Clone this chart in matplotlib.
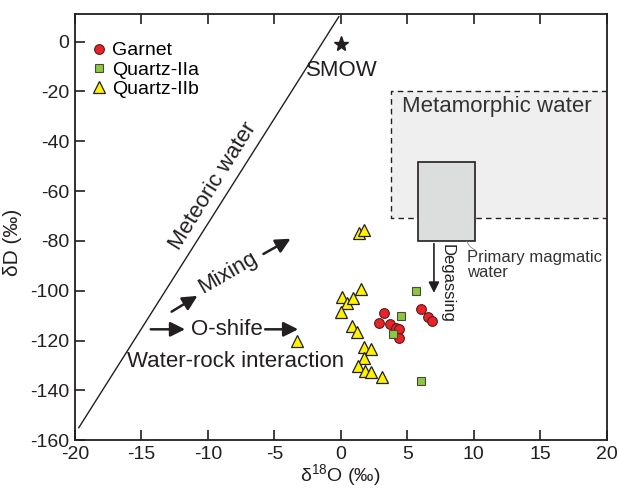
import matplotlib
matplotlib.use('Agg')
from matplotlib import pyplot as plt
from matplotlib.patches import Rectangle
import numpy as np

plt.rcParams['font.family'] = ['Liberation Sans', 'DejaVu Sans']
plt.rcParams['mathtext.fontset'] = 'custom'
plt.rcParams['mathtext.rm'] = 'Liberation Sans'
plt.rcParams['axes.unicode_minus'] = False
ink = '#231f20'

# data (δ18O, δD)
garnet_x = [3.21, 2.85, 3.67, 4.16, 4.36, 4.4, 6.06, 6.59, 6.86]
garnet_y = [-108.8, -113.1, -113.4, -114.8, -115.2, -118.8, -107.2, -110.4, -112.2]
qz2a_x = [5.64, 4.5, 3.92, 5.99]
qz2a_y = [-100.2, -110.0, -117.3, -136.2]
qz2b_x = [1.36, 1.75, 0.09, 0.46, 0.95, 1.55, -0.02, 0.82, 1.24, 1.73, 2.24,
          1.73, 1.31, 1.85, 2.28, 3.07, -3.28]
qz2b_y = [-76.9, -75.6, -102.4, -104.8, -102.8, -99.3, -108.4, -114.2, -116.7,
          -122.5, -123.5, -126.9, -130.3, -132.3, -132.5, -134.8, -120.3]

smow_x, smow_y = 0, -1
meteoric_x = [-19.7, -0.15]
meteoric_y = [-155, 10]
metamorphic_box = (3.8, 20.0, -71.0, -20.0)   # x0, x1, y0, y1
magmatic_box = (5.8, 10.1, -80.0, -48.5)

fig = plt.figure(figsize=(6.18, 4.88), dpi=100)
ax = fig.add_axes([0.121, 0.098, 0.861, 0.873])

# metamorphic water field
x0, x1, y0, y1 = metamorphic_box
ax.add_patch(Rectangle((x0, y0), x1 - x0, y1 - y0, facecolor='#efefef',
                       edgecolor='none', zorder=0))
ax.plot([x1, x0, x0, x1], [y1, y1, y0, y0], ls=(0, (4, 3)), color=ink, lw=1, zorder=1)
ax.text(4.6, -26, 'Metamorphic water', fontsize=16, color='#333333', va='center')

# primary magmatic water
x0, x1, y0, y1 = magmatic_box
ax.add_patch(Rectangle((x0, y0), x1 - x0, y1 - y0, facecolor='#dcdddd',
                       edgecolor=ink, lw=1.2, zorder=2))
ax.annotate('', xy=(7.0, -102), xytext=(7.0, -80),
            arrowprops=dict(arrowstyle='-|>', mutation_scale=16, lw=1.2, color=ink))
ax.text(8.0, -97, 'Degassing', rotation=270, fontsize=12, color=ink,
        ha='center', va='center')
ax.annotate('', xy=(10.3, -84), xytext=(9.4, -79),
            arrowprops=dict(arrowstyle='-', lw=0.6, color='#888888',
                            connectionstyle='arc3,rad=0.3'))
ax.text(9.5, -89.5, 'Primary magmatic\nwater', fontsize=12, color='#333333',
        va='center', linespacing=1.0)

# meteoric water line and SMOW
ax.plot(meteoric_x, meteoric_y, color=ink, lw=1)
ax.text(-9.6, -58, 'Meteoric water', rotation=58, fontsize=16, color=ink,
        ha='center', va='center')
ax.plot(smow_x, smow_y, marker='*', ms=11, color=ink, ls='none')
ax.text(-2.6, -11.5, 'SMOW', fontsize=16, color=ink, va='center')

# arrows
arrow = dict(arrowstyle='-|>', mutation_scale=22, lw=1.8, color=ink)
ax.annotate('', xy=(-10.6, -101.5), xytext=(-12.9, -109), arrowprops=arrow)
ax.text(-8.5, -93, 'Mixing', rotation=30, fontsize=16, color=ink, ha='center', va='center')
ax.annotate('', xy=(-3.6, -78.6), xytext=(-6.0, -85.8), arrowprops=arrow)
ax.annotate('', xy=(-11.5, -115.5), xytext=(-14.5, -115.5), arrowprops=arrow)
ax.text(-8.6, -115.5, 'O-shife', fontsize=16, color=ink, ha='center', va='center')
ax.annotate('', xy=(-3.0, -115.5), xytext=(-5.9, -115.5), arrowprops=arrow)
ax.text(-16.1, -128.6, 'Water-rock interaction', fontsize=16, color=ink, va='center')

# samples
ax.plot(qz2b_x, qz2b_y, '^', ms=8, mfc='#fff200', mec=ink, mew=0.9, ls='none',
        label='Quartz-IIb', zorder=5)
ax.plot(garnet_x, garnet_y, 'o', ms=7, mfc='#e8222a', mec='#5a1a1a', mew=0.8, ls='none',
        label='Garnet', zorder=6)
ax.plot(qz2a_x, qz2a_y, 's', ms=6, mfc='#8dc63f', mec='#4a4a3a', mew=0.8, ls='none',
        label='Quartz-IIa', zorder=7)

h, l = ax.get_legend_handles_labels()
order = [1, 2, 0]
ax.legend([h[i] for i in order], [l[i] for i in order], loc='upper left',
          bbox_to_anchor=(0.03, 0.935), frameon=False, fontsize=14,
          handlelength=0.8, handletextpad=0.3, labelspacing=0.08, borderpad=0,
          borderaxespad=0)

ax.set_xlim(-20, 20)
ax.set_ylim(-160, 11)
ax.set_xticks(np.arange(-20, 21, 5))
ax.set_yticks(np.arange(-160, 1, 20))
ax.tick_params(direction='in', top=True, right=False, length=7, width=1.2,
               labelsize=14, colors=ink, pad=4)
for s in ax.spines.values():
    s.set_linewidth(1.3)
    s.set_color(ink)
ax.set_xlabel(r'δ$^{18}$O (‰)', fontsize=14, color=ink, labelpad=0)
ax.set_ylabel('δD (‰)', fontsize=15, color=ink)
ax.yaxis.set_label_coords(-0.1, 0.465)

fig.savefig('out.png', dpi=100)
